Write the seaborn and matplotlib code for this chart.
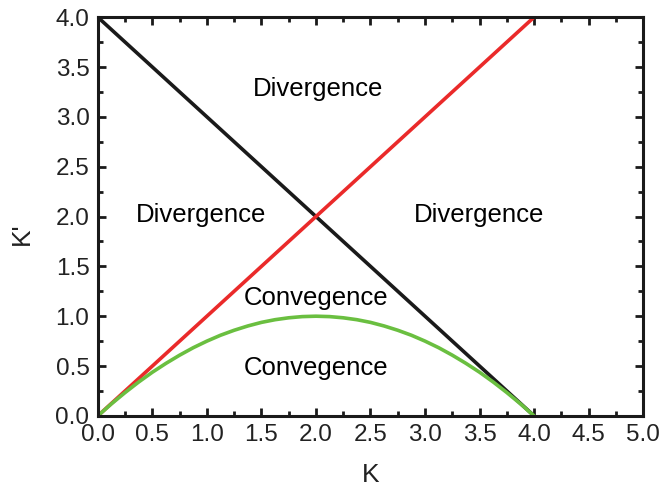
import matplotlib
matplotlib.use("Agg")
import matplotlib.pyplot as plt
from matplotlib.ticker import MultipleLocator
import seaborn as sns
import pandas as pd

# Stability boundaries in the (K, K') plane
black_k = [0.0, 4.0]
black_kp = [4.0, 0.0]

red_k = [0.0, 4.0]
red_kp = [0.0, 4.0]

green_k = [0.0, 0.125, 0.25, 0.375, 0.5, 0.625, 0.75, 0.875, 1.0,
           1.125, 1.25, 1.375, 1.5, 1.625, 1.75, 1.875, 2.0,
           2.125, 2.25, 2.375, 2.5, 2.625, 2.75, 2.875, 3.0,
           3.125, 3.25, 3.375, 3.5, 3.625, 3.75, 3.875, 4.0]
green_kp = [0.0, 0.121, 0.234, 0.340, 0.438, 0.527, 0.609, 0.684, 0.75,
            0.809, 0.859, 0.902, 0.938, 0.965, 0.984, 0.996, 1.0,
            0.996, 0.984, 0.965, 0.938, 0.902, 0.859, 0.809, 0.75,
            0.684, 0.609, 0.527, 0.438, 0.340, 0.234, 0.121, 0.0]

region_labels = ["Divergence", "Divergence", "Divergence", "Convegence", "Convegence"]
region_x = [2.02, 0.95, 3.5, 2.0, 2.0]
region_y = [3.28, 2.02, 2.02, 1.18, 0.48]

sns.set_style("ticks")
plt.rcParams["font.family"] = ["Liberation Sans", "DejaVu Sans"]

fig = plt.figure(figsize=(6.61, 4.91), dpi=100)
ax = fig.add_axes([0.148, 0.153, 0.825, 0.812])

sns.lineplot(data=pd.DataFrame({"K": black_k, "Kp": black_kp}), x="K", y="Kp",
             color="#1a1a1a", linewidth=2.6, ax=ax)
sns.lineplot(data=pd.DataFrame({"K": red_k, "Kp": red_kp}), x="K", y="Kp",
             color="#ea2a2a", linewidth=2.6, ax=ax)
sns.lineplot(data=pd.DataFrame({"K": green_k, "Kp": green_kp}), x="K", y="Kp",
             color="#6abf40", linewidth=2.6, ax=ax)

for lab, x, y in zip(region_labels, region_x, region_y):
    ax.text(x, y, lab, ha="center", va="center", fontsize=18.5, color="black")

ax.set_xlim(0, 5)
ax.set_ylim(0, 4)
ax.xaxis.set_major_locator(MultipleLocator(0.5))
ax.xaxis.set_minor_locator(MultipleLocator(0.25))
ax.yaxis.set_major_locator(MultipleLocator(0.5))
ax.yaxis.set_minor_locator(MultipleLocator(0.25))
ax.xaxis.set_major_formatter(plt.FuncFormatter(lambda v, p: f"{v:.1f}"))
ax.yaxis.set_major_formatter(plt.FuncFormatter(lambda v, p: f"{v:.1f}"))

ax.tick_params(which="both", direction="in", top=True, right=True,
               width=2.0, colors="#1a1a1a", labelcolor="#222222")
ax.tick_params(which="major", length=6, labelsize=17.5, pad=6)
ax.tick_params(which="minor", length=3.5)

for s in ax.spines.values():
    s.set_linewidth(2.2)
    s.set_color("#1a1a1a")

ax.set_xlabel("K", fontsize=19, color="#222222")
ax.set_ylabel("K'", fontsize=19, color="#222222")
ax.xaxis.set_label_coords(0.5, -0.118)
ax.yaxis.set_label_coords(-0.118, 0.456)

fig.savefig("out.png", dpi=100)
